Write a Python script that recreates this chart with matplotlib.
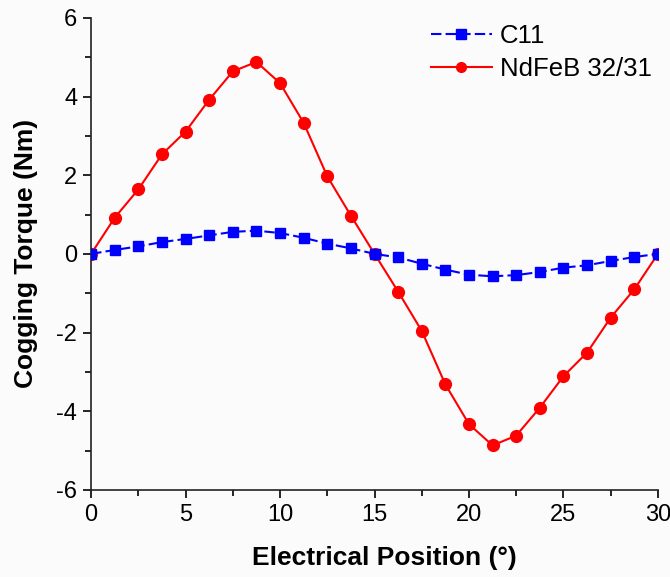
import matplotlib
matplotlib.use('Agg')
import matplotlib.pyplot as plt
from matplotlib.ticker import MultipleLocator

# Data
position = [i * 1.25 for i in range(25)]
c11 = [0, 0.10, 0.19, 0.30, 0.38, 0.47, 0.56, 0.59, 0.53, 0.41, 0.26, 0.14, 0,
       -0.09, -0.25, -0.40, -0.53, -0.57, -0.54, -0.46, -0.35, -0.29, -0.18, -0.08, 0]
ndfeb = [0, 0.92, 1.64, 2.53, 3.11, 3.92, 4.64, 4.88, 4.34, 3.33, 1.97, 0.97, 0,
         -0.96, -1.96, -3.32, -4.33, -4.87, -4.62, -3.91, -3.11, -2.51, -1.62, -0.90, 0]
labels = ['C11', 'NdFeB 32/31']

plt.rcParams['font.family'] = ['Liberation Sans', 'DejaVu Sans']
plt.rcParams['axes.unicode_minus'] = False

fig = plt.figure(figsize=(6.7, 5.77), dpi=100, facecolor='#fbfbfb')
ax = fig.add_axes([0.136, 0.151, 0.846, 0.818], facecolor='#fbfbfb')

ax.plot(position, c11, color='#0000ff', linestyle=(0, (5, 2)), linewidth=1.5,
        marker='s', markersize=7, label=labels[0], zorder=3)
ax.plot(position, ndfeb, color='#ff0000', linewidth=1.5,
        marker='o', markersize=8.5, label=labels[1], zorder=2)

ax.set_xlim(0, 30)
ax.set_ylim(-6, 6)
ax.xaxis.set_major_locator(MultipleLocator(5))
ax.xaxis.set_minor_locator(MultipleLocator(2.5))
ax.yaxis.set_major_locator(MultipleLocator(2))
ax.yaxis.set_minor_locator(MultipleLocator(1))

for s in ['top', 'right']:
    ax.spines[s].set_visible(False)
for s in ['left', 'bottom']:
    ax.spines[s].set_linewidth(1.2)
    ax.spines[s].set_color('#222222')

ax.tick_params(which='major', direction='out', length=6, width=1.2, labelsize=17, pad=4)
ax.tick_params(which='minor', direction='out', length=4, width=1.2)

ax.set_xlabel('Electrical Position (°)', fontsize=19, fontweight='bold')
ax.set_ylabel('Cogging Torque (Nm)', fontsize=19, fontweight='bold')
ax.xaxis.set_label_coords(0.517, -0.118)
ax.yaxis.set_label_coords(-0.094, 0.5)

leg = ax.legend(loc='upper right', bbox_to_anchor=(1.03, 1.035), frameon=False,
                fontsize=18.5, handlelength=2.4, labelspacing=0.35, handletextpad=0.3)
for h in leg.legend_handles:
    h.set_markersize(7)

fig.savefig('out.png', dpi=100, facecolor=fig.get_facecolor())
